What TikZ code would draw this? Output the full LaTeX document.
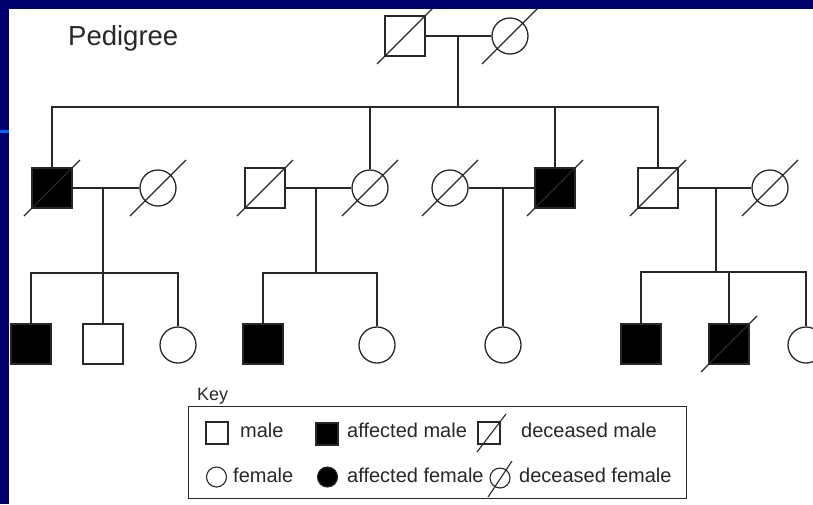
\documentclass[tikz,border=0pt]{standalone}
\usepackage{fontspec}
\setmainfont{Liberation Sans}
\definecolor{navy}{RGB}{2,2,108}
\definecolor{brightblue}{RGB}{0,100,255}
\definecolor{ink}{RGB}{40,40,40}
\newcommand\dslash[2][28]{\draw[lin] ([shift={(-#1,#1)}]#2.center) -- ([shift={(#1,-#1)}]#2.center);}
\begin{document}
\begin{tikzpicture}[x=1pt,y=-1pt,
  lin/.style={line width=1.3pt,draw=ink},
  male/.style={rectangle,draw=ink,line width=1.3pt,minimum size=40pt,inner sep=0pt,fill=white},
  female/.style={circle,draw=ink,line width=1.3pt,minimum size=36pt,inner sep=0pt,fill=white},
  aff/.style={fill=black},
  kmale/.style={rectangle,draw=ink,line width=1.1pt,minimum size=22pt,inner sep=0pt},
  kfemale/.style={circle,draw=ink,line width=1.1pt,minimum size=20pt,inner sep=0pt},
  ktext/.style={anchor=base west,inner sep=0pt,font=\fontsize{20}{23}\selectfont,text=ink},
  title/.style={anchor=base west,inner sep=0pt,font=\fontsize{27.5}{32}\selectfont,text=ink}
]
\useasboundingbox (0,0) rectangle (813,504);
\clip (0,0) rectangle (813,504);
\fill[white] (0,0) rectangle (813,504);

\node[title] (ttl) at (68,45) {Pedigree};

% generation 1
\node[male] (gf) at (405,36) {};
\node[female] (gm) at (510,36) {};
\draw[lin] (gf.east) -- (gm.west);
\dslash{gf}
\dslash{gm}
\coordinate (j0) at (458,36);
\coordinate (s0) at (458,107);
\draw[lin] (j0) -- (s0);

% generation 2
\node[male,aff] (A) at (52,188) {};
\node[female] (B) at (158,188) {};
\node[male] (C) at (265,188) {};
\node[female] (D) at (370,188) {};
\node[female] (E) at (450,188) {};
\node[male,aff] (F) at (555,188) {};
\node[male] (G) at (658,188) {};
\node[female] (H) at (770,188) {};
\foreach \n in {A,B,C,D,E,F,G,H} {\dslash{\n}}

\draw[lin] (A.north) -- (A.north |- s0) -- (G.north |- s0) -- (G.north);
\draw[lin] (D.north) -- (D.north |- s0);
\draw[lin] (F.north) -- (F.north |- s0);

\draw[lin] (A.east) -- (B.west);
\draw[lin] (C.east) -- (D.west);
\draw[lin] (E.east) -- (F.west);
\draw[lin] (G.east) -- (H.west);

\coordinate (jA) at (103,188);
\coordinate (jC) at (316,188);
\coordinate (jE) at (503,188);
\coordinate (jG) at (716,188);
\coordinate (cA) at (103,273);
\coordinate (cC) at (316,273);
\coordinate (cG) at (716,272);

% generation 3
\node[male,aff] (a1) at (31,344) {};
\node[male] (a2) at (103,344) {};
\node[female] (a3) at (178,345) {};
\node[male,aff] (c1) at (263,344) {};
\node[female] (c2) at (377,345) {};
\node[female] (e1) at (503,345) {};
\node[male,aff] (g1) at (641,344) {};
\node[male,aff] (g2) at (729,344) {};
\node[female] (g3) at (806,345) {};
\dslash{g2}

\draw[lin] (jA) -- (cA);
\draw[lin] (a1.north) -- (a1.north |- cA) -- (a3.north |- cA) -- (a3.north);
\draw[lin] (a2.north) -- (cA);
\draw[lin] (jC) -- (cC);
\draw[lin] (c1.north) -- (c1.north |- cC) -- (c2.north |- cC) -- (c2.north);
\draw[lin] (jE) -- (e1.north);
\draw[lin] (jG) -- (cG);
\draw[lin] (g1.north) -- (g1.north |- cG) -- (g3.north |- cG) -- (g3.north);
\draw[lin] (g2.north) -- (g2.north |- cG);

% key
\node[anchor=base west,inner sep=0pt,font=\fontsize{18}{21}\selectfont,text=ink] (keylbl) at (197,400) {Key};
\node[draw=ink,line width=1.3pt,minimum width=498pt,minimum height=92pt,inner sep=0pt,anchor=north west] (keybox) at (188,406) {};
\node[kmale] (k1) at (217,433) {};
\node[ktext] (k1t) at (240,437) {male};
\node[kmale,aff] (k2) at (327,434) {};
\node[ktext] (k2t) at (347,437) {affected male};
\node[kmale] (k3) at (489,433) {};
\draw[lin,line width=1.1pt] ([shift={(-12,19)}]k3.center) -- ([shift={(17,-19)}]k3.center);
\node[ktext] (k3t) at (521,437) {deceased male};
\node[kfemale] (k4) at (216.5,477) {};
\node[ktext] (k4t) at (233,482) {female};
\node[kfemale,aff] (k5) at (327.5,477) {};
\node[ktext] (k5t) at (347,482) {affected female};
\node[kfemale] (k6) at (500,478) {};
\draw[lin,line width=1.1pt] ([shift={(-12,19)}]k6.center) -- ([shift={(12,-17)}]k6.center);
\node[ktext] (k6t) at (519,482) {deceased female};

% slide frame
\fill[navy] (0,0) rectangle (813,9);
\fill[navy] (0,0) rectangle (9,504);
\fill[brightblue] (0,130) rectangle (9,132.5);
\end{tikzpicture}
\end{document}
